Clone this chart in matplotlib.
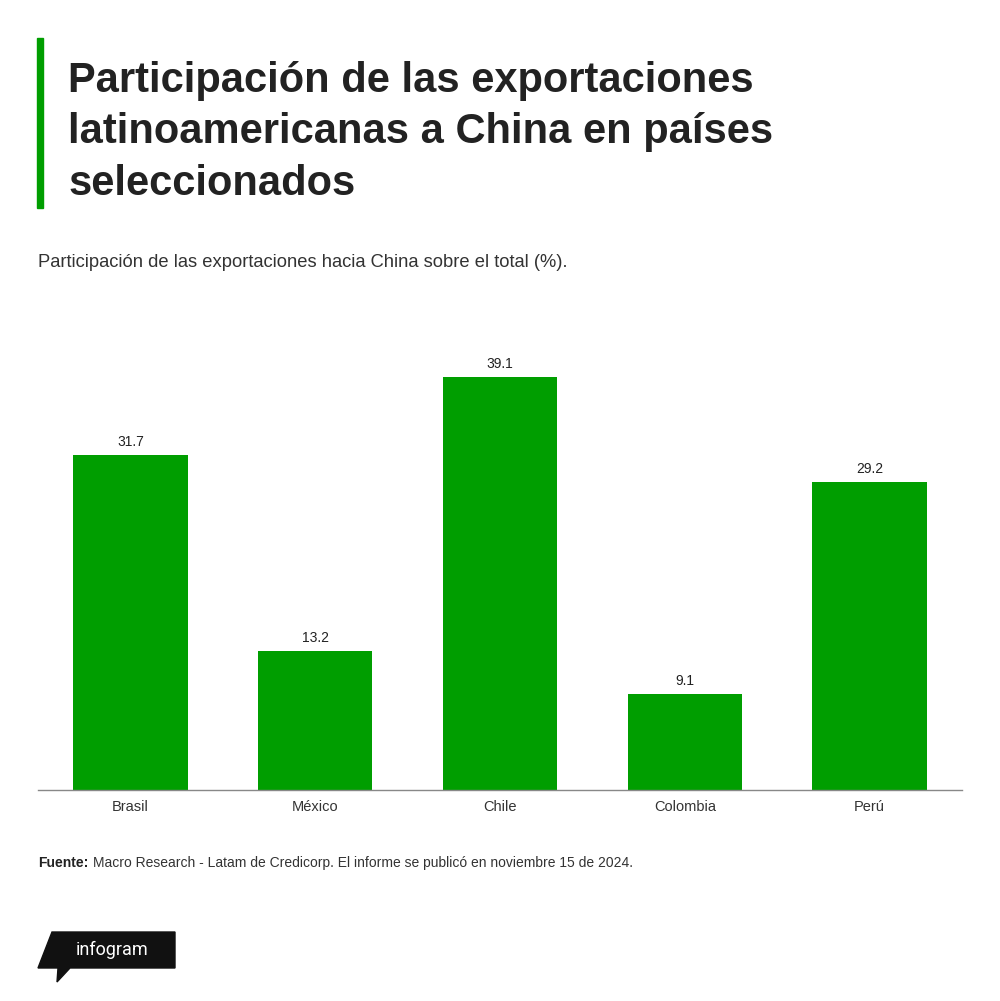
import matplotlib.pyplot as plt
from matplotlib.patches import Polygon, Rectangle

paises = ["Brasil", "México", "Chile", "Colombia", "Perú"]
participacion = [31.7, 13.2, 39.1, 9.1, 29.2]

verde = "#009e00"
W, H = 1000, 1001

def fx(px):
    return px / W

def fy(py):
    return 1 - py / H

fig = plt.figure(figsize=(10, 10.01), dpi=100)
fig.patch.set_facecolor("white")

# axes placed in pixel terms so the bars line up with the reference
ax = fig.add_axes([fx(38), fy(790), fx(962) - fx(38), fy(340) - fy(790)])
x = list(range(len(paises)))
bars = ax.bar(x, participacion, width=0.62, color=verde)
ax.set_xlim(-0.5, len(paises) - 0.5)
ax.set_ylim(0, 42.6)
for b, v in zip(bars, participacion):
    ax.text(b.get_x() + b.get_width() / 2, v + 0.55, f"{v:.1f}", ha="center", va="bottom",
            fontsize=10, color="#222222", family="Liberation Sans")
ax.set_xticks(x)
ax.set_xticklabels(paises, fontsize=10.5, color="#333333", family="Liberation Sans")
ax.tick_params(axis="x", length=0, pad=7)
ax.set_yticks([])
for s in ["top", "right", "left"]:
    ax.spines[s].set_visible(False)
ax.spines["bottom"].set_color("#888888")
ax.spines["bottom"].set_linewidth(1)

# title block with green bar
fig.patches.append(Rectangle((fx(37), fy(208)), fx(6), fy(38) - fy(208),
                             transform=fig.transFigure, color=verde))
titulo = ["Participación de las exportaciones",
          "latinoamericanas a China en países",
          "seleccionados"]
for i, linea in enumerate(titulo):
    fig.text(fx(68), fy(92 + 51.5 * i), linea, fontsize=30, fontweight="bold",
             color="#222222", family="Liberation Sans", va="baseline")

fig.text(fx(38), fy(267), "Participación de las exportaciones hacia China sobre el total (%).",
         fontsize=13.2, color="#333333", family="Liberation Sans", va="baseline")

fig.text(fx(38), fy(867), "Fuente:", fontsize=10, fontweight="bold", color="#222222",
         family="Liberation Sans", va="baseline")
fig.text(fx(93), fy(867), "Macro Research - Latam de Credicorp. El informe se publicó en noviembre 15 de 2024.",
         fontsize=10, color="#333333", family="Liberation Sans", va="baseline")

# infogram badge
logo = [(52, 932), (175, 932), (175, 968), (70, 968), (57, 982), (58, 968), (38, 968)]
fig.patches.append(Polygon([(fx(px), fy(py)) for px, py in logo], closed=True,
                           transform=fig.transFigure, color="#111111"))
fig.text(fx(112), fy(950), "infogram", fontsize=13, color="white", ha="center", va="center",
         family="Roboto")

fig.savefig("out.png", dpi=100, facecolor="white")
